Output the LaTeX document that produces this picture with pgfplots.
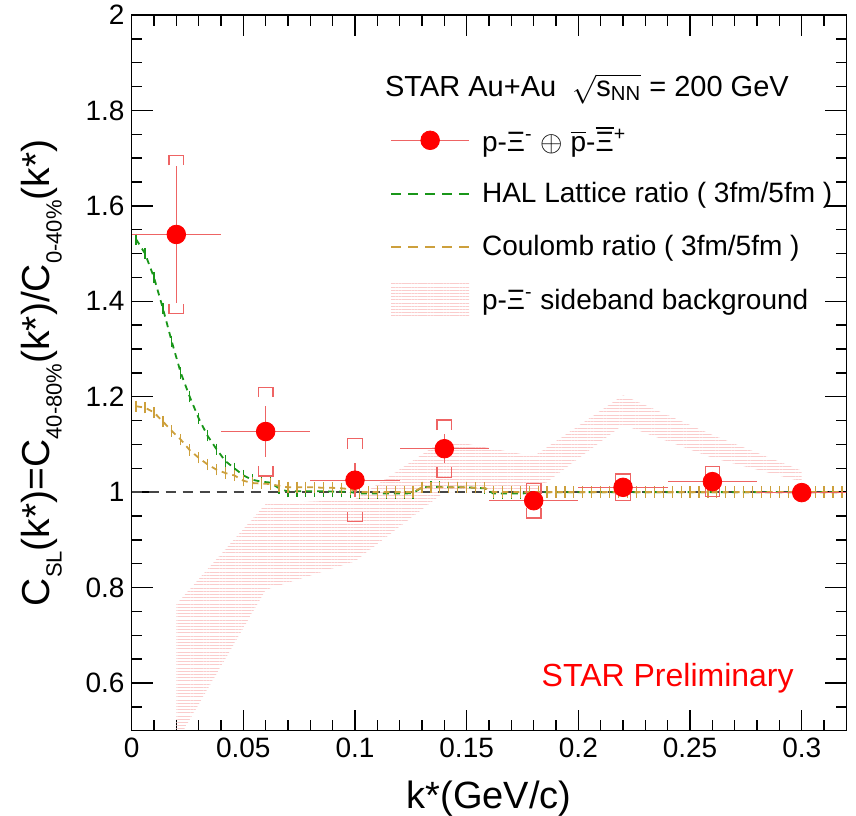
\documentclass[border=0pt]{standalone}
\usepackage{amsmath}
\usepackage{fontspec}
\setmainfont{Liberation Sans}
\usepackage{pgfplots}
\pgfplotsset{compat=1.18}
\usepackage{pgfplotstable}
\usetikzlibrary{patterns.meta}
\definecolor{errred}{RGB}{238,100,100}
\definecolor{halgreen}{RGB}{25,150,25}
\definecolor{coultan}{RGB}{205,160,60}
\definecolor{bandpink}{RGB}{250,204,204}
\definecolor{refgray}{RGB}{70,70,70}
\newcommand{\sub}[1]{\raisebox{-0.3em}{\fontsize{11}{12}\selectfont #1}}
\pgfdeclareplotmark{brtop}{%
  \pgfpathmoveto{\pgfqpoint{-3.6pt}{-5pt}}\pgfpathlineto{\pgfqpoint{-3.6pt}{0pt}}%
  \pgfpathlineto{\pgfqpoint{3.6pt}{0pt}}\pgfpathlineto{\pgfqpoint{3.6pt}{-5pt}}\pgfusepathqstroke}
\pgfdeclareplotmark{brbot}{%
  \pgfpathmoveto{\pgfqpoint{-3.6pt}{5pt}}\pgfpathlineto{\pgfqpoint{-3.6pt}{0pt}}%
  \pgfpathlineto{\pgfqpoint{3.6pt}{0pt}}\pgfpathlineto{\pgfqpoint{3.6pt}{5pt}}\pgfusepathqstroke}

\pgfplotstableread{
x y stat
0.02 1.540 0.144
0.06 1.127 0.053
0.10 1.025 0.036
0.14 1.091 0.030
0.18 0.982 0.016
0.22 1.010 0.012
0.26 1.022 0.012
0.30 0.999 0.008
}\datatab
\pgfplotstableread{
x y sys
0.02 1.540 0.166
0.06 1.127 0.093
0.10 1.025 0.087
0.14 1.091 0.060
0.18 0.982 0.036
0.22 1.010 0.028
0.26 1.022 0.031
}\systab
\pgfplotstableread{
x y
0.002 1.530
0.006 1.500
0.010 1.450
0.014 1.385
0.018 1.315
0.022 1.250
0.026 1.200
0.030 1.155
0.034 1.118
0.038 1.090
0.042 1.065
0.046 1.050
0.050 1.035
0.054 1.026
0.058 1.022
0.062 1.020
0.066 1.008
0.070 1.001
0.074 1.002
0.078 1.002
0.082 1.002
0.086 1.002
0.090 1.001
0.094 1.001
0.098 1.000
0.102 0.997
0.106 0.997
0.110 0.997
0.114 0.997
0.118 0.997
0.122 0.997
0.126 0.998
0.130 1.010
0.134 1.011
0.138 1.011
0.142 1.010
0.146 1.010
0.150 1.010
0.154 1.009
0.158 1.008
0.162 0.997
0.166 0.997
0.170 0.997
0.174 0.997
0.178 0.998
0.182 1.000
0.186 1.000
0.190 1.000
0.194 1.000
0.198 1.000
0.202 1.000
0.206 1.000
0.210 1.000
0.214 1.000
0.218 1.000
0.222 1.000
0.226 1.000
0.230 1.000
0.234 1.000
0.238 1.000
0.242 1.000
0.246 1.000
0.250 1.000
0.254 1.000
0.258 1.000
0.262 1.000
0.266 1.000
0.270 1.000
0.274 1.000
0.278 1.000
0.282 1.000
0.286 1.000
0.290 1.000
0.294 1.000
0.298 1.000
0.302 1.000
0.306 1.000
0.310 1.000
0.314 1.000
0.318 1.000
}\haltab
\pgfplotstableread{
x y
0.002 1.180
0.006 1.177
0.010 1.167
0.014 1.148
0.018 1.128
0.022 1.110
0.026 1.088
0.030 1.072
0.034 1.058
0.038 1.047
0.042 1.040
0.046 1.035
0.050 1.024
0.054 1.019
0.058 1.018
0.062 1.017
0.066 1.013
0.070 1.010
0.074 1.010
0.078 1.010
0.082 1.010
0.086 1.009
0.090 1.009
0.094 1.008
0.098 1.006
0.102 1.000
0.106 1.000
0.110 1.000
0.114 1.000
0.118 1.000
0.122 1.000
0.126 1.000
0.130 1.010
0.134 1.010
0.138 1.010
0.142 1.010
0.146 1.010
0.150 1.010
0.154 1.009
0.158 1.009
0.162 1.000
0.166 1.000
0.170 1.000
0.174 1.000
0.178 1.000
0.182 1.000
0.186 1.000
0.190 1.000
0.194 1.000
0.198 1.000
0.202 1.000
0.206 1.000
0.210 1.000
0.214 1.000
0.218 1.000
0.222 1.000
0.226 1.000
0.230 1.000
0.234 1.000
0.238 1.000
0.242 1.000
0.246 1.000
0.250 1.000
0.254 1.000
0.258 1.000
0.262 1.000
0.266 1.000
0.270 1.000
0.274 1.000
0.278 1.000
0.282 1.000
0.286 1.000
0.290 1.000
0.294 1.000
0.298 1.000
0.302 1.000
0.306 1.000
0.310 1.000
0.314 1.000
0.318 1.000
}\coultab

\begin{document}
\begin{tikzpicture}
\path[use as bounding box] (-65.8pt,-42.25pt) rectangle (362.1pt,365.25pt);
\begin{axis}[
  scale only axis,
  width=357.3pt, height=357.75pt,
  xmin=0, xmax=0.32, ymin=0.5, ymax=2.0,
  xtick={0,0.05,0.1,0.15,0.2,0.25,0.3},
  xticklabels={0,0.05,0.1,0.15,0.2,0.25,0.3},
  ytick={0.6,0.8,1,1.2,1.4,1.6,1.8,2},
  yticklabels={0.6,0.8,1,1.2,1.4,1.6,1.8,2},
  minor xtick={0,0.01,...,0.32},
  minor ytick={0.5,0.55,...,2.0},
  tick align=inside, xtick pos=both, ytick pos=both,
  major tick length=10.5pt, minor tick length=5.25pt,
  axis line style={line width=0.8pt, black},
  every tick/.style={black, line width=0.7pt},
  ticklabel style={font=\fontsize{14}{16}\selectfont},
  /pgf/number format/assume math mode=true,
  xlabel={k*(GeV/c)},
  xlabel style={font=\fontsize{19}{22}\selectfont, at={(axis description cs:0.5,-0.1083)}, anchor=base},
  ylabel={C\sub{SL}(k*)=C\sub{40-80\%}(k*)/C\sub{0-40\%}(k*)},
  ylabel style={font=\fontsize{19.5}{22}\selectfont, at={(axis description cs:-0.1143,0.5)}, anchor=base},
  legend style={at={(axis cs:0.1156,1.776)}, anchor=north west, draw=none, fill=none,
    font=\fontsize{14}{16}\selectfont, row sep=8.7pt, inner sep=0pt,
    /tikz/every odd column/.append style={column sep=4pt}},
  legend cell align=left,
]
% sideband band
\addplot[draw=none, pattern={Lines[angle=0,distance=1.6pt,line width=0.4pt]}, pattern color=bandpink, forget plot]
  coordinates {(0.02,0.765) (0.06,0.975) (0.10,0.985) (0.14,1.11) (0.18,1.075) (0.22,1.203) (0.26,1.12) (0.30,1.045)
               (0.30,1.022) (0.26,1.072) (0.22,1.141) (0.18,1.0) (0.14,1.0) (0.10,0.855) (0.06,0.795) (0.02,0.475)} -- cycle;
% unity line
\addplot[refgray, line width=0.65pt, dash pattern=on 5pt off 3.5pt, forget plot] coordinates {(0,1) (0.32,1)};
% HAL lattice
\addplot[halgreen, line width=0.9pt, dash pattern=on 3pt off 2.5pt, forget plot,
  error bars/.cd, y dir=both, y fixed=0.006, error mark=-,
  error mark options={mark size=1.4pt, halgreen, solid, line width=0.6pt},
  error bar style={solid, line width=0.6pt}] table[x=x,y=y] {\haltab};
% Coulomb
\addplot[coultan, line width=0.9pt, dash pattern=on 3pt off 2.5pt, forget plot,
  error bars/.cd, y dir=both, y fixed=0.006, error mark=-,
  error mark options={mark size=1.4pt, coultan, solid, line width=0.6pt},
  error bar style={solid, line width=0.6pt}] table[x=x,y=y] {\coultab};
% systematic brackets
\addplot[only marks, mark=brtop, mark options={errred, line width=0.65pt}, forget plot]
  table[x=x, y expr=\thisrow{y}+\thisrow{sys}] {\systab};
\addplot[only marks, mark=brbot, mark options={errred, line width=0.65pt}, forget plot]
  table[x=x, y expr=\thisrow{y}-\thisrow{sys}] {\systab};
% data
\addplot[only marks, mark=*, mark size=4.65pt, color=red, forget plot,
  error bars/.cd, x dir=both, x fixed=0.02, y dir=both, y explicit,
  error bar style={errred, line width=0.65pt}, error mark=none]
  table[x=x, y=y, y error=stat] {\datatab};

% legend
\addlegendimage{legend image code/.code={
  \path[draw=none,fill=none] (0pt,-9pt) rectangle (39pt,9pt);
  \draw[errred, line width=0.65pt] (0pt,0pt) -- (39pt,0pt);
  \fill[red] (19.5pt,0pt) circle (4.65pt);}}
\addlegendentry{p-Ξ\textsuperscript{-} $\oplus$ $\overline{\mbox{p}}$-$\overline{\mbox{Ξ}}$\textsuperscript{+}}
\addlegendimage{legend image code/.code={
  \path[draw=none,fill=none] (0pt,-9pt) rectangle (39pt,9pt);
  \draw[halgreen, line width=0.9pt, dash pattern=on 5pt off 3.5pt] (0pt,0pt) -- (39pt,0pt);}}
\addlegendentry{HAL Lattice ratio ( 3fm/5fm )}
\addlegendimage{legend image code/.code={
  \path[draw=none,fill=none] (0pt,-9pt) rectangle (39pt,9pt);
  \draw[coultan, line width=0.9pt, dash pattern=on 5pt off 3.5pt] (0pt,0pt) -- (39pt,0pt);}}
\addlegendentry{Coulomb ratio ( 3fm/5fm )}
\addlegendimage{legend image code/.code={
  \path[draw=none,fill=none] (0pt,-9pt) rectangle (39pt,9pt);
  \fill[draw=none, pattern={Lines[angle=0,distance=1.6pt,line width=0.4pt]}, pattern color=bandpink] (0pt,-8.75pt) rectangle (39pt,8.75pt);}}
\addlegendentry{p-Ξ\textsuperscript{-} sideband background}

\node[anchor=west, inner sep=0pt, font=\fontsize{14.5}{17}\selectfont] at (axis cs:0.1133,1.845)
  {STAR Au+Au\ \ $\sqrt{\text{s}_{\text{NN}}}$ = 200 GeV};
\node[red, inner sep=0pt, font=\fontsize{16}{19}\selectfont] at (axis cs:0.240,0.610) {STAR Preliminary};
\end{axis}
\end{tikzpicture}
\end{document}
